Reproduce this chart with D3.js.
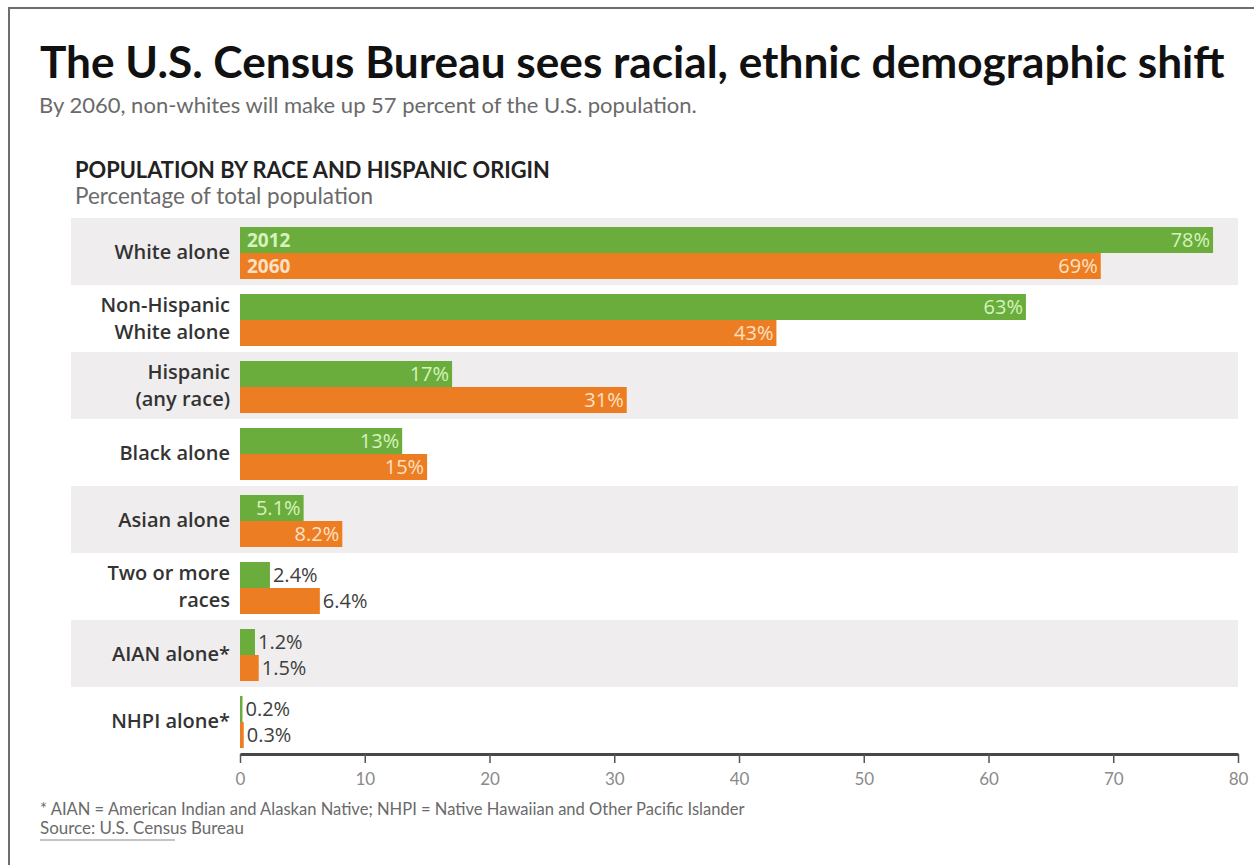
<!DOCTYPE html>
<html>
<head>
<meta charset="utf-8">
<script src="https://cdn.jsdelivr.net/npm/d3@7"></script>
<style>
  html, body { margin: 0; padding: 0; background: #fff; }
  svg { display: block; font-family: Lato, "Open Sans", sans-serif; }
</style>
</head>
<body>
<svg id="chart" width="1254" height="865"></svg>
<script>
// Population by race and Hispanic origin, share of total population (%)
const categories = [
  "White alone",
  "Non-Hispanic|White alone",
  "Hispanic|(any race)",
  "Black alone",
  "Asian alone",
  "Two or more|races",
  "AIAN alone*",
  "NHPI alone*"
];
const years = ["2012", "2060"];
const values2012 = [78, 63, 17, 13, 5.1, 2.4, 1.2, 0.2];
const values2060 = [69, 43, 31, 15, 8.2, 6.4, 1.5, 0.3];
const xTicks = [0, 10, 20, 30, 40, 50, 60, 70, 80];

const titleText = "The U.S. Census Bureau sees racial, ethnic demographic shift";
const subtitleText = "By 2060, non-whites will make up 57 percent of the U.S. population.";
const headerText = "POPULATION BY RACE AND HISPANIC ORIGIN";
const unitText = "Percentage of total population";
const noteText = "* AIAN = American Indian and Alaskan Native; NHPI = Native Hawaiian and Other Pacific Islander";
const sourceText = "Source: U.S. Census Bureau";

const seriesValues = { "2012": values2012, "2060": values2060 };
const rows = categories.map((c, i) => ({
  index: i,
  lines: c.split("|"),
  values: years.map(yr => ({ year: yr, value: seriesValues[yr][i], row: i }))
}));

const colors = { "2012": "#6aad3d", "2060": "#ed7d22" };
const innerText = { "2012": "#d6f3bd", "2060": "#fde1c2" };
const labelFont = "'Open Sans', Lato, sans-serif";

const svg = d3.select("#chart");

// frame lines
svg.append("path")
  .attr("d", "M9,865V8H1254")
  .attr("fill", "none")
  .attr("stroke", "#6e6e6e")
  .attr("stroke-width", 2);

// scale text so it spans a given width
function fitText(sel, width) {
  const node = sel.node();
  const fs = parseFloat(sel.attr("font-size"));
  const w = node.getComputedTextLength();
  if (w > 0) sel.attr("font-size", (fs * width / w).toFixed(2));
  return sel;
}

fitText(svg.append("text")
  .attr("x", 40).attr("y", 78)
  .attr("font-size", 40).attr("font-weight", 700)
  .attr("fill", "#111")
  .text(titleText), 1185);

fitText(svg.append("text")
  .attr("x", 39).attr("y", 113)
  .attr("font-size", 17)
  .attr("fill", "#6a6a6a")
  .text(subtitleText), 658);

fitText(svg.append("text")
  .attr("x", 75).attr("y", 178)
  .attr("font-size", 17).attr("font-weight", 700)
  .attr("fill", "#222")
  .text(headerText), 475);

fitText(svg.append("text")
  .attr("x", 75).attr("y", 204)
  .attr("font-size", 18)
  .attr("fill", "#6a6a6a")
  .text(unitText), 298);

// scales
const x = d3.scaleLinear().domain([0, 80]).range([240, 1238]);
const y = d3.scaleBand().domain(d3.range(categories.length)).range([218, 754]);
const yInner = d3.scaleBand().domain(years).range([9, 61]);

// alternating row shading
svg.append("g").selectAll("rect")
  .data(rows.filter(r => r.index % 2 === 0))
  .join("rect")
  .attr("x", 71)
  .attr("y", r => y(r.index))
  .attr("width", x(80) - 71)
  .attr("height", y.bandwidth())
  .attr("fill", "#efeded");

const rowG = svg.append("g").selectAll("g")
  .data(rows)
  .join("g")
  .attr("transform", r => `translate(0,${y(r.index)})`);

// category labels
rowG.append("text")
  .attr("text-anchor", "end")
  .attr("font-family", labelFont)
  .attr("font-size", 20)
  .attr("font-weight", 600)
  .attr("fill", "#333")
  .attr("x", 230)
  .each(function (r) {
    const t = d3.select(this);
    const mid = y.bandwidth() / 2;
    const n = r.lines.length;
    r.lines.forEach((line, k) => {
      t.append("tspan")
        .attr("x", 230)
        .attr("y", mid + 7 + (k - (n - 1) / 2) * 27)
        .text(line);
    });
  });

// bars
rowG.selectAll("rect.bar")
  .data(r => r.values)
  .join("rect")
  .attr("class", "bar")
  .attr("x", x(0))
  .attr("y", d => yInner(d.year))
  .attr("width", d => x(d.value) - x(0))
  .attr("height", yInner.bandwidth())
  .attr("fill", d => colors[d.year]);

// value labels: inside the bar when the row is wide enough, else beside it
const fmt = v => v + "%";
rowG.each(function (r) {
  const inside = r.values[0].value >= 5;
  d3.select(this).selectAll("text.val")
    .data(r.values)
    .join("text")
    .attr("class", "val")
    .attr("font-family", labelFont)
    .attr("font-size", 20)
    .attr("x", d => inside ? x(d.value) - 3 : x(d.value) + 3)
    .attr("y", d => yInner(d.year) + yInner.bandwidth() / 2 + 7)
    .attr("text-anchor", inside ? "end" : "start")
    .attr("fill", d => inside ? innerText[d.year] : "#3e3e3e")
    .text(d => fmt(d.value));
});

// year keys inside the first row
rowG.filter(r => r.index === 0).selectAll("text.key")
  .data(r => r.values)
  .join("text")
  .attr("class", "key")
  .attr("x", x(0) + 7)
  .attr("y", d => yInner(d.year) + yInner.bandwidth() / 2 + 7)
  .attr("font-family", labelFont)
  .attr("font-size", 19)
  .attr("font-weight", 700)
  .attr("fill", d => innerText[d.year])
  .text(d => d.year);

// x axis
const axis = svg.append("g")
  .attr("transform", `translate(0,${y.range()[1]})`)
  .call(d3.axisBottom(x).tickValues(xTicks).tickSize(9).tickSizeOuter(0).tickPadding(10));
axis.select(".domain").attr("stroke", "#474747").attr("stroke-width", 3);
axis.selectAll(".tick line").attr("stroke", "#555").attr("stroke-width", 1.5);
axis.selectAll(".tick text")
  .attr("font-family", "Lato, sans-serif")
  .attr("font-size", 17)
  .attr("fill", "#8a8a8a");

// notes
fitText(svg.append("text")
  .attr("x", 40).attr("y", 815)
  .attr("font-size", 13)
  .attr("fill", "#6a6a6a")
  .text(noteText), 705);

fitText(svg.append("text")
  .attr("x", 40).attr("y", 834)
  .attr("font-size", 13)
  .attr("fill", "#6a6a6a")
  .text(sourceText), 204);

svg.append("line")
  .attr("x1", 40).attr("x2", 175)
  .attr("y1", 840).attr("y2", 840)
  .attr("stroke", "#c4c4c4")
  .attr("stroke-width", 2);
</script>
</body>
</html>
